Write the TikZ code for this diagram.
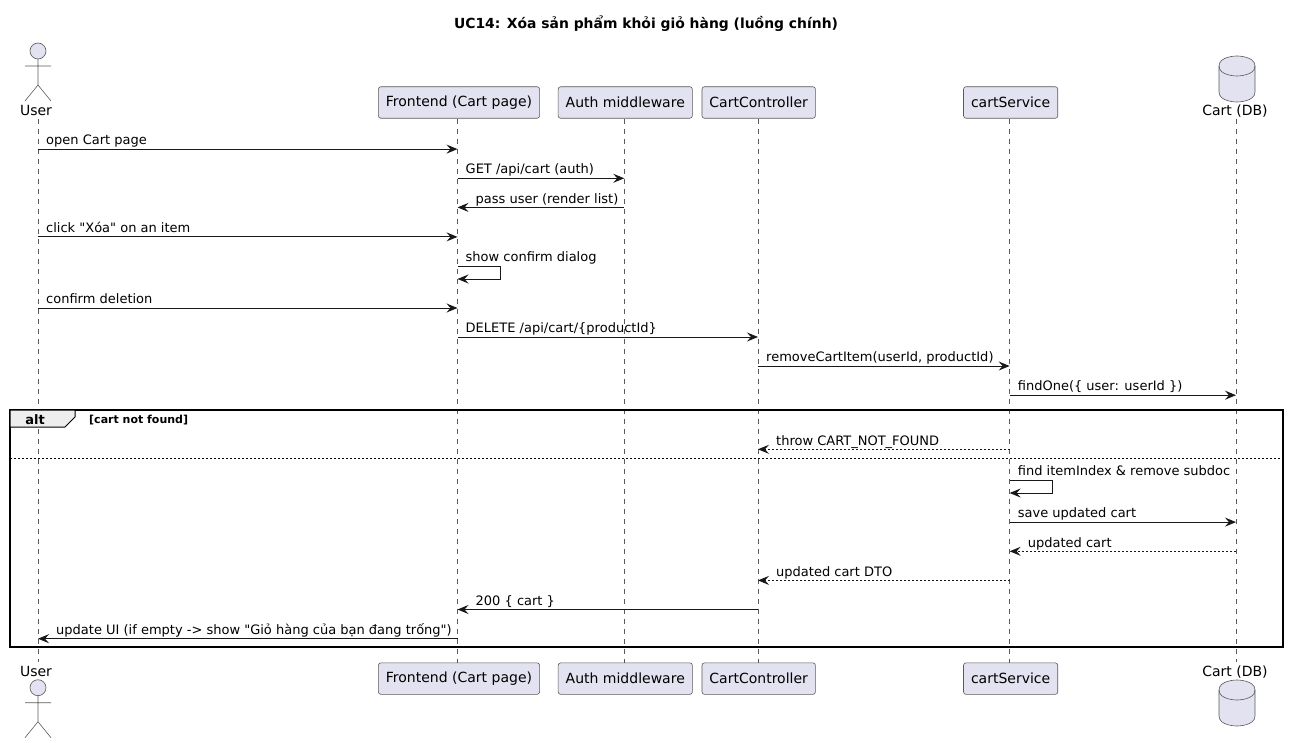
\documentclass[tikz,border=0pt]{standalone}
\usepackage{fontspec}
\setmainfont{DejaVu Sans}[Ligatures=TeXOff]
\usepackage{xcolor}
\usetikzlibrary{arrows.meta,positioning}
\definecolor{partfill}{HTML}{E2E2F0}
\definecolor{linecol}{HTML}{181818}
\definecolor{edgecol}{HTML}{5A5A5A}
\definecolor{tabfill}{HTML}{EEEEEE}

\begin{document}
\begin{tikzpicture}[
  x=1pt,y=-1pt,
  part/.style={rectangle,draw=edgecol,fill=partfill,line width=0.6pt,rounded corners=2.5pt,minimum height=31.5pt,inner xsep=7.5pt,inner ysep=0pt,font=\fontsize{14}{16}\selectfont},
  partlbl/.style={inner sep=0pt,anchor=base,font=\fontsize{14}{16}\selectfont},
  life/.style={draw=edgecol,line width=0.5pt,dash pattern=on 5pt off 5pt},
  msg/.style={draw=linecol,line width=1pt,-{Stealth[length=11pt,width=9pt,inset=4pt]}},
  back/.style={msg,dash pattern=on 2pt off 2pt},
  lblr/.style={inner sep=0pt,anchor=base west,xshift=8pt,yshift=4.3pt,text=black,font=\fontsize{13}{15}\selectfont},
  lbll/.style={lblr,xshift=10pt},
  pics/actor/.style={code={
    \draw[draw=edgecol,fill=partfill,line width=0.6pt] (0,0) circle (8);
    \draw[draw=edgecol,line width=0.6pt] (0,8) -- (0,34) (-13,15) -- (13,15) (-13,50) -- (0,34) -- (13,50);
  }},
  pics/dbase/.style={code={
    \draw[draw=edgecol,fill=partfill,line width=0.6pt] (-18,10) .. controls (-18,0) and (0,0) .. (0,0) .. controls (0,0) and (18,0) .. (18,10) -- (18,36) .. controls (18,46) and (0,46) .. (0,46) .. controls (0,46) and (-18,46) .. (-18,36) -- cycle;
    \draw[draw=edgecol,line width=0.6pt] (-18,10) .. controls (-18,20) and (0,20) .. (0,20) .. controls (0,20) and (18,20) .. (18,10);
  }}
]
\useasboundingbox (0,0) rectangle (1289,743);

\node[inner sep=0pt,anchor=base,font=\bfseries\fontsize{13.9}{16}\selectfont] (title) at (646,28.5) {UC14: Xóa sản phẩm khỏi giỏ hàng (luồng chính)};

% top row
\pic at (38,51) {actor};
\node[partlbl] (user) at (36,116) {User};
\node[part] (front) at (459,102.5) {Frontend (Cart page)};
\node[part,right=18pt of front] (auth) {Auth middleware};
\node[part,right=9pt of auth] (ctrl) {CartController};
\node[part,right=147.5pt of ctrl] (svc) {cartService};
\pic at (1237,56) {dbase};
\node[partlbl] (db) at (1235,116) {Cart (DB)};

% bottom row
\node[partlbl] (userb) at (36,676) {User};
\pic at (38,687.7) {actor};
\node[part,below=544pt of front] (frontb) {Frontend (Cart page)};
\node[part,below=544pt of auth] (authb) {Auth middleware};
\node[part,below=544pt of ctrl] (ctrlb) {CartController};
\node[part,below=544pt of svc] (svcb) {cartService};
\node[partlbl] (dbb) at (1235,676) {Cart (DB)};
\pic at (1237,680) {dbase};

% lifelines
\coordinate (lu) at (38,119);
\coordinate (lub) at (38,662);
\coordinate (lf) at ([xshift=-1.5pt]front.south);
\coordinate (lfb) at ([xshift=-1.5pt]frontb.north);
\coordinate (la) at ([xshift=-1pt]auth.south);
\coordinate (lab) at ([xshift=-1pt]authb.north);
\coordinate (lc) at ([xshift=-0.7pt]ctrl.south);
\coordinate (lcb) at ([xshift=-0.7pt]ctrlb.north);
\coordinate (ls) at ([xshift=-1pt]svc.south);
\coordinate (lsb) at ([xshift=-1pt]svcb.north);
\coordinate (ld) at (1236,119);
\coordinate (ldb) at (1236,662);
\draw[life] (lu) -- (lub);
\draw[life] (lf) -- (lfb);
\draw[life] (la) -- (lab);
\draw[life] (lc) -- (lcb);
\draw[life] (ls) -- (lsb);
\draw[life] (ld) -- (ldb);

% rows of the messages
\foreach \i/\y in {1/149.1,2/178.3,3/207.4,4/236.9,5/266,5b/279,6/308,7/337,8/366,9/395.2,10/449.3,sep/458,11/480,11b/493,12/522.1,13/551.3,14/580.4,15/609.5,16/638.7}
  \coordinate (r\i) at (0,\y);

\draw[msg] (lu |- r1) -- (lf |- r1);
\node[lblr] (m1) at (lu |- r1) {open Cart page};
\draw[msg] (lf |- r2) -- (la |- r2);
\node[lblr] (m2) at (lf |- r2) {GET /api/cart (auth)};
\draw[msg] (la |- r3) -- (lf |- r3);
\node[lbll] (m3) at (lf |- r3) {pass user (render list)};
\draw[msg] (lu |- r4) -- (lf |- r4);
\node[lblr] (m4) at (lu |- r4) {click "Xóa" on an item};
\draw[msg] (lf |- r5) -- ++(43,0) -- ++(0,13) -- (lf |- r5b);
\node[lblr] (m5) at (lf |- r5) {show confirm dialog};
\draw[msg] (lu |- r6) -- (lf |- r6);
\node[lblr] (m6) at (lu |- r6) {confirm deletion};
\draw[msg] (lf |- r7) -- (lc |- r7);
\node[lblr] (m7) at (lf |- r7) {DELETE /api/cart/\{productId\}};
\draw[msg] (lc |- r8) -- (ls |- r8);
\node[lblr] (m8) at (lc |- r8) {removeCartItem(userId, productId)};
\draw[msg] (ls |- r9) -- (ld |- r9);
\node[lblr] (m9) at (ls |- r9) {findOne(\{ user: userId \})};

% alt frame
\node[draw=black,line width=1.5pt,inner sep=0pt,outer sep=0pt,minimum width=1273pt,minimum height=237pt] (altbox) at (646.5,528.5) {};
\draw[draw=black,line width=1pt,fill=tabfill] (altbox.north west) -- ++(65,0) -- ++(0,7) -- ++(-10,10) -- ++(-55,0) -- cycle;
\node[inner sep=0pt,anchor=base,font=\bfseries\fontsize{13}{15}\selectfont] (alttag) at (35,424) {alt};
\node[inner sep=0pt,anchor=base west,font=\bfseries\fontsize{11}{13}\selectfont] (altcond) at (89,423) {[cart not found]};
\draw[draw=black,line width=1pt,dash pattern=on 2pt off 2pt] (altbox.west |- rsep) -- (altbox.east |- rsep);

\draw[back] (ls |- r10) -- (lc |- r10);
\node[lbll] (m10) at (lc |- r10) {throw CART\_NOT\_FOUND};
\draw[msg] (ls |- r11) -- ++(43,0) -- ++(0,13) -- (ls |- r11b);
\node[lblr] (m11) at (ls |- r11) {find itemIndex \& remove subdoc};
\draw[msg] (ls |- r12) -- (ld |- r12);
\node[lblr] (m12) at (ls |- r12) {save updated cart};
\draw[back] (ld |- r13) -- (ls |- r13);
\node[lbll] (m13) at (ls |- r13) {updated cart};
\draw[back] (ls |- r14) -- (lc |- r14);
\node[lbll] (m14) at (lc |- r14) {updated cart DTO};
\draw[msg] (lc |- r15) -- (lf |- r15);
\node[lbll] (m15) at (lf |- r15) {200 \{ cart \}};
\draw[msg] (lf |- r16) -- (lu |- r16);
\node[lbll] (m16) at (lu |- r16) {update UI (if empty -> show "Giỏ hàng của bạn đang trống")};
\end{tikzpicture}
\end{document}
